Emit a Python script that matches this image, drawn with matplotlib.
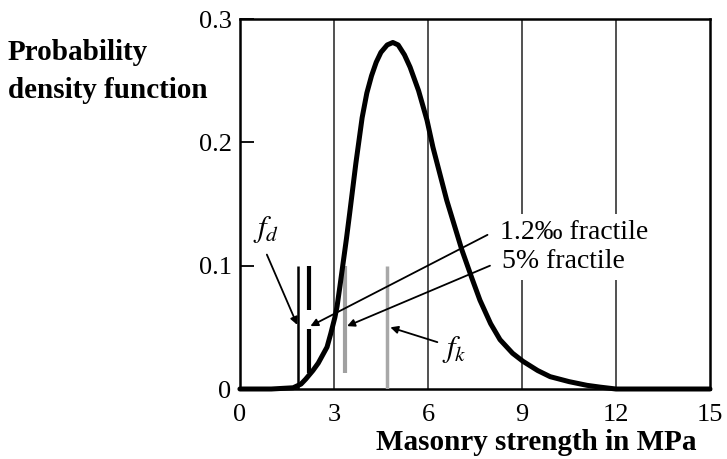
import matplotlib.pyplot as plt

plt.rcParams['font.family'] = ['Liberation Serif', 'DejaVu Serif']
plt.rcParams['mathtext.fontset'] = 'stix'

# density curve
strength = [0, 1.0, 1.7, 1.95, 2.1, 2.33, 2.5, 2.78, 2.9, 3.03, 3.1, 3.19, 3.4,
            3.5, 3.7, 3.9, 4.05, 4.2, 4.35, 4.5, 4.7, 4.88, 5.05, 5.25, 5.43,
            5.7, 5.97, 6.16, 6.6, 7.08, 7.4, 7.66, 8.0, 8.3, 8.7, 9.03, 9.5,
            9.9, 10.5, 11.07, 11.5, 12, 15]
density = [0, 0, 0.001, 0.004, 0.008, 0.015, 0.021, 0.034, 0.045, 0.058, 0.067,
           0.083, 0.122, 0.142, 0.183, 0.22, 0.24, 0.254, 0.265, 0.273, 0.279,
           0.281, 0.279, 0.271, 0.261, 0.242, 0.218, 0.196, 0.153, 0.113, 0.09,
           0.072, 0.053, 0.04, 0.029, 0.0225, 0.015, 0.01, 0.006, 0.003,
           0.0015, 0, 0]

fd = 1.86
frac_12 = 2.2
frac_5 = 3.35
fk = 4.7

xticks = [0, 3, 6, 9, 12, 15]
yticks = [0, 0.1, 0.2, 0.3]
ytick_labels = ['0', '0.1', '0.2', '0.3']

fig = plt.figure(figsize=(7.27, 4.59), dpi=100)
ax = fig.add_axes([0.330, 0.1525, 0.6466, 0.806])

for g in xticks[1:-1]:
    ax.axvline(g, color='#222222', lw=1.1, zorder=1)

ax.plot(strength, density, color='black', lw=3.6, solid_capstyle='round',
        solid_joinstyle='round', clip_on=False, zorder=4)

# fractile markers
ax.vlines(fd, 0, 0.1, color='black', lw=1.8, zorder=3)
ax.vlines(frac_12, 0.064, 0.1, color='black', lw=3, zorder=3)
ax.vlines(frac_12, 0.013, 0.049, color='black', lw=3, zorder=3)
ax.vlines(frac_5, 0.013, 0.1, color='#a0a0a0', lw=3, zorder=3)
ax.vlines(fk, 0, 0.1, color='#a8a8a8', lw=2.5, zorder=3)

arrow = dict(arrowstyle='-|>', color='black', lw=1.3, mutation_scale=11,
             shrinkA=0, shrinkB=0)
ax.annotate('', xy=(1.83, 0.052), xytext=(0.86, 0.109), arrowprops=arrow, zorder=5)
ax.annotate('', xy=(2.25, 0.051), xytext=(7.9, 0.125), arrowprops=arrow, zorder=5)
ax.annotate('', xy=(3.42, 0.051), xytext=(7.98, 0.1), arrowprops=arrow, zorder=5)
ax.annotate('', xy=(4.8, 0.05), xytext=(6.3, 0.038), arrowprops=arrow, zorder=5)

box = dict(facecolor='white', edgecolor='none', pad=4)
ax.text(8.3, 0.127, '1.2‰ fractile', fontsize=20, va='center', ha='left',
        bbox=box, zorder=6)
ax.text(8.36, 0.103, '5% fractile', fontsize=20, va='center', ha='left',
        bbox=box, zorder=6)
ax.text(0.85, 0.129, '$f_d$', fontsize=22, va='center', ha='center', zorder=6)
ax.text(6.85, 0.032, '$f_k$', fontsize=22, va='center', ha='center', zorder=6)

ax.set_xlim(0, 15)
ax.set_ylim(0, 0.3)
ax.set_xticks(xticks)
ax.set_yticks(yticks)
ax.set_yticklabels(ytick_labels)
ax.tick_params(axis='x', length=0, pad=11, labelsize=19)
ax.tick_params(axis='y', direction='in', length=10, width=1.3, pad=6, labelsize=19)
for s in ax.spines.values():
    s.set_linewidth(1.8)

fig.text(8 / 727, 1 - 53 / 459, 'Probability', fontsize=21, fontweight='bold',
         ha='left', va='center')
fig.text(8 / 727, 1 - 90 / 459, 'density function', fontsize=21, fontweight='bold',
         ha='left', va='center')
fig.text(536 / 727, 1 - 443 / 459, 'Masonry strength in MPa', fontsize=21,
         fontweight='bold', ha='center', va='center')

fig.savefig('out.png', dpi=100)
